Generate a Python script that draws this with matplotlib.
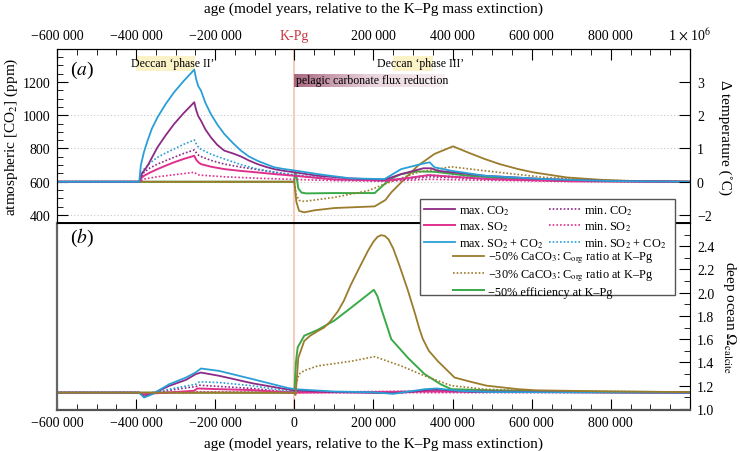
import numpy as np
import matplotlib
matplotlib.use('Agg')
import matplotlib.pyplot as plt
from matplotlib.colors import LinearSegmentedColormap
from matplotlib.patches import Rectangle
from matplotlib.ticker import MultipleLocator, FormatStrFormatter

plt.rcParams['font.family'] = ['Liberation Serif', 'DejaVu Serif']
plt.rcParams['mathtext.fontset'] = 'stix'
plt.rcParams['font.size'] = 10

# ---- panel (a): atmospheric CO2 (ppm) ----
t_max_co2 = [-600000, -392000, -385000, -380000, -371000, -360000, -346000, -325000, -304000, -280000,
             -253000, -248000, -243000, -236000, -225000, -211000, -195000, -177000, -155000, -135000,
             -115000, -93000, -70000, -51000, -25000, 0, 59000, 143000, 228000, 270000, 326000,
             346000, 363000, 400000, 481000, 633000, 800000, 1000000]
co2_max_co2 = [600, 600, 650, 666, 696, 745, 807, 880, 947, 1012,
               1078, 1030, 995, 967, 915, 867, 822, 787, 770, 752,
               728, 706, 688, 676, 665, 657, 636, 620, 612, 646, 681,
               681, 666, 656, 636, 616, 604, 600]

t_max_both = [-600000, -392000, -388000, -380000, -371000, -360000, -346000, -325000, -304000, -280000,
              -253000, -248000, -243000, -236000, -225000, -211000, -195000, -177000, -155000, -135000,
              -115000, -93000, -70000, -51000, -25000, 0, 59000, 143000, 228000, 270000, 320000,
              342000, 354000, 397000, 481000, 633000, 800000, 1000000]
co2_max_both = [600, 600, 700, 780, 847, 920, 987, 1068, 1138, 1205,
                1274, 1215, 1175, 1148, 1075, 1007, 945, 887, 832, 787,
                752, 726, 704, 687, 676, 668, 646, 620, 616, 676, 706,
                717, 687, 666, 636, 616, 604, 600]

t_max_so2 = [-600000, -392000, -388000, -380000, -365000, -346000, -325000, -304000, -280000, -253000,
             -248000, -242000, -236000, -210000, -177000, -135000, -93000, -45000, 0, 100000,
             228000, 280000, 340000, 400000, 500000, 700000, 1000000]
co2_max_so2 = [600, 600, 620, 636, 655, 676, 697, 717, 737, 756,
               732, 716, 706, 690, 676, 665, 656, 645, 636, 614,
               607, 620, 640, 630, 615, 603, 600]

t_min_both = [-600000, -392000, -388000, -380000, -365000, -346000, -325000, -304000, -280000, -253000,
              -246000, -240000, -210000, -177000, -135000, -93000, -45000, 0, 100000, 228000,
              280000, 340000, 400000, 500000, 700000, 1000000]
co2_min_both = [600, 600, 640, 676, 712, 747, 773, 797, 825, 851,
                820, 800, 765, 737, 703, 676, 656, 642, 615, 608,
                620, 640, 632, 618, 605, 600]

t_min_co2 = [-600000, -392000, -385000, -380000, -365000, -346000, -325000, -304000, -280000, -253000,
             -246000, -240000, -210000, -177000, -135000, -93000, -45000, 0, 100000, 228000,
             280000, 340000, 400000, 500000, 700000, 1000000]
co2_min_co2 = [600, 600, 632, 657, 683, 706, 727, 747, 770, 791,
               768, 755, 728, 706, 688, 673, 655, 638, 614, 607,
               615, 630, 625, 615, 604, 600]

t_min_so2 = [-600000, -392000, -385000, -380000, -346000, -300000, -253000, -246000, -240000, -177000,
             -90000, 0, 100000, 228000, 300000, 340000, 450000, 700000, 1000000]
co2_min_so2 = [600, 600, 610, 616, 630, 643, 657, 645, 640, 630,
               621, 614, 607, 603, 610, 615, 610, 602, 600]

t_eff = [-600000, 0, 2000, 5000, 10000, 18000, 30000, 100000, 203000, 228000,
         250000, 270000, 312000, 354000, 439000, 565000, 700000, 1000000]
co2_eff = [600, 600, 660, 640, 560, 535, 530, 532, 532, 586,
           625, 646, 662, 660, 636, 616, 605, 600]

t_c50 = [-600000, 0, 5000, 12000, 25000, 50000, 101000, 203000, 230000, 245000, 280000, 312000,
         354000, 401000, 440000, 481000, 519000, 566000, 603000, 633000, 688000, 772000, 857000, 1000000]
co2_c50 = [600, 600, 480, 425, 416, 428, 442, 452, 490, 536, 620, 696,
           767, 813, 775, 737, 706, 676, 657, 646, 626, 612, 604, 600]

t_c30 = [-600000, 0, 5000, 12000, 25000, 101000, 186000, 228000, 312000, 397000,
         481000, 633000, 800000, 1000000]
co2_c30 = [600, 600, 520, 488, 482, 506, 546, 586, 657, 690,
           666, 626, 608, 600]

# ---- panel (b): deep ocean saturation ----
tb_max_both = [-600000, -392000, -380000, -359000, -316000, -274000, -250000, -236000, -190000, -105000,
               -21000, 0, 100000, 200000, 250000, 280000, 330000, 360000, 420000, 500000, 1000000]
om_max_both = [1.14, 1.14, 1.098, 1.127, 1.213, 1.27, 1.313, 1.348, 1.327, 1.256,
               1.184, 1.17, 1.15, 1.143, 1.13, 1.145, 1.17, 1.176, 1.155, 1.145, 1.14]

tb_max_co2 = [-600000, -392000, -380000, -359000, -316000, -274000, -249000, -236000, -190000, -105000,
              -21000, 0, 100000, 250000, 290000, 340000, 370000, 450000, 1000000]
om_max_co2 = [1.14, 1.14, 1.107, 1.13, 1.199, 1.25, 1.30, 1.313, 1.285, 1.22,
              1.17, 1.16, 1.145, 1.135, 1.145, 1.165, 1.165, 1.148, 1.14]

tb_max_so2 = [-600000, -392000, -380000, -359000, -254000, -245000, -190000, -105000, -21000, 0,
              340000, 1000000]
om_max_so2 = [1.14, 1.14, 1.125, 1.133, 1.156, 1.176, 1.170, 1.162, 1.142, 1.14,
              1.15, 1.14]

tb_min_both = [-600000, -392000, -380000, -359000, -316000, -249000, -240000, -190000, -105000, -21000,
               0, 200000, 340000, 450000, 1000000]
om_min_both = [1.14, 1.14, 1.125, 1.14, 1.17, 1.213, 1.233, 1.227, 1.199, 1.156,
               1.15, 1.142, 1.155, 1.145, 1.14]

tb_min_co2 = [-600000, -392000, -380000, -359000, -316000, -249000, -240000, -105000, -21000, 0,
              340000, 1000000]
om_min_co2 = [1.14, 1.14, 1.13, 1.14, 1.16, 1.193, 1.204, 1.176, 1.147, 1.145,
              1.152, 1.14]

tb_min_so2 = [-600000, -392000, -380000, -254000, -245000, -105000, 0, 1000000]
om_min_so2 = [1.14, 1.14, 1.135, 1.14, 1.147, 1.145, 1.14, 1.14]

tb_eff = [-600000, 0, 4000, 8400, 25000, 59000, 101000, 143000, 201000, 210000, 219000,
          245000, 287000, 329000, 371000, 397000, 500000, 700000, 1000000]
om_eff = [1.14, 1.14, 1.40, 1.53, 1.63, 1.68, 1.76, 1.87, 2.025, 1.97, 1.87,
          1.60, 1.44, 1.30, 1.21, 1.17, 1.16, 1.15, 1.145]

tb_c50 = [-600000, 0, 3000, 6000, 10000, 25000, 40000, 59000, 75000, 90000, 110000, 125000,
          143000, 165000, 186000, 200000, 210000, 219000, 228000, 238000, 250000, 265000,
          287000, 305000, 316000, 325000, 340000, 363000, 405000, 450000, 486000, 566000,
          612000, 800000, 1000000]
om_c50 = [1.14, 1.14, 1.12, 1.25, 1.44, 1.585, 1.63, 1.67, 1.70, 1.75, 1.84, 1.93,
          2.07, 2.22, 2.36, 2.44, 2.48, 2.495, 2.49, 2.46, 2.38, 2.24,
          2.02, 1.82, 1.69, 1.60, 1.50, 1.41, 1.27, 1.23, 1.20, 1.17,
          1.16, 1.15, 1.145]

tb_c30 = [-600000, 0, 5000, 12000, 25000, 59000, 143000, 203000, 270000, 329000, 397000,
          481000, 600000, 1000000]
om_c30 = [1.14, 1.14, 1.22, 1.30, 1.33, 1.37, 1.41, 1.45, 1.37, 1.285, 1.20,
          1.17, 1.155, 1.145]

x_ticks = [-600000, -400000, -200000, 0, 200000, 400000, 600000, 800000, 1000000]
top_labels = ['\u2212600 000', '\u2212400 000', '\u2212200 000', 'K-Pg', '200 000', '400 000',
              '600 000', '800 000', r'1 $\times$ 10$^6$']
bottom_labels = ['\u2212600 000', '\u2212400 000', '\u2212200 000', '0', '200 000', '400 000',
                 '600 000', '800 000', '']
co2_ticks = [400, 600, 800, 1000, 1200]
temp_ticks = [1200, 1000, 800, 600, 400]
temp_labels = ['3', '2', '1', '0', '\u22122']

purple = '#8c2a86'
magenta = '#e0308e'
blue = '#2a9fd6'
brown = '#9b7b2c'
green = '#3aaa48'
dots = (0, (1, 1.2))

fig = plt.figure(figsize=(7.4, 4.52), dpi=100)
ax_a = fig.add_axes([0.077, 0.5044, 0.8554, 0.385])
ax_b = fig.add_axes([0.077, 0.0918, 0.8554, 0.4126])

# ---- panel a ----
for y in [400, 600, 800, 1000]:
    ax_a.axhline(y, color='#c8c8c8', lw=0.8, ls=(0, (1, 2)), zorder=0.5)
ax_a.axvline(0, color='#f4cdbf', lw=1.5, zorder=0.6)

l_eff, = ax_a.plot(t_eff, co2_eff, color=green, lw=1.4, label='\u221250% efficiency at K\u2013Pg')
l_c50, = ax_a.plot(t_c50, co2_c50, color=brown, lw=1.3,
                   label='\u221250% CaCO$_3$: C$_{\\rm org}$ ratio at K\u2013Pg')
l_c30, = ax_a.plot(t_c30, co2_c30, color=brown, lw=1.2, ls=dots,
                   label='\u221230% CaCO$_3$: C$_{\\rm org}$ ratio at K\u2013Pg')
l_minso2, = ax_a.plot(t_min_so2, co2_min_so2, color=magenta, lw=1.2, ls=dots, label='min. SO$_2$')
l_minco2, = ax_a.plot(t_min_co2, co2_min_co2, color=purple, lw=1.2, ls=dots, label='min. CO$_2$')
l_minboth, = ax_a.plot(t_min_both, co2_min_both, color=blue, lw=1.2, ls=dots, label='min. SO$_2$ + CO$_2$')
l_maxso2, = ax_a.plot(t_max_so2, co2_max_so2, color=magenta, lw=1.4, label='max. SO$_2$')
l_maxco2, = ax_a.plot(t_max_co2, co2_max_co2, color=purple, lw=1.3, label='max. CO$_2$')
l_maxboth, = ax_a.plot(t_max_both, co2_max_both, color=blue, lw=1.3, label='max. SO$_2$ + CO$_2$')

ax_a.xaxis.tick_top()
ax_a.xaxis.set_label_position('top')
ax_a.set_xticks(x_ticks)
ax_a.set_xticklabels(top_labels)
ax_a.get_xticklabels()[3].set_color('#c8343c')
ax_a.get_xticklabels()[3].set_fontsize(11)
ax_a.xaxis.set_minor_locator(MultipleLocator(50000))
ax_a.set_yticks(co2_ticks)
ax_a.yaxis.set_minor_locator(MultipleLocator(50))
ax_a.tick_params(which='both', direction='in', top=True, bottom=False, left=True, right=False)
ax_a.tick_params(which='major', length=8, pad=5, labelsize=10)
ax_a.tick_params(which='minor', length=4)
ax_a.set_xlabel('age (model years, relative to the K\u2013Pg mass extinction)', fontsize=11, labelpad=10)
ax_a.set_ylabel('atmospheric [CO$_2$] (ppm)', fontsize=11)
ax_a.yaxis.set_label_coords(-0.058, 0.5)
ax_a.text(0.04, 0.885, '($a$)', transform=ax_a.transAxes, fontsize=14, ha='center', va='center')

ax_t = ax_a.twinx()
ax_t.set_ylim(352, 1398)
ax_t.set_yticks(temp_ticks)
ax_t.set_yticklabels(temp_labels)
ax_t.tick_params(direction='in', length=8, pad=5, labelsize=10)
ax_t.set_ylabel('\u0394 temperature (\u02daC)', fontsize=11, rotation=270)
ax_t.yaxis.set_label_coords(1.066, 0.5)

# annotation bands
ax_a.add_patch(Rectangle((-400000, 1266), 150000, 90, facecolor='#fcf2c8', edgecolor='none', zorder=1))
ax_a.add_patch(Rectangle((250000, 1266), 100000, 90, facecolor='#fcf2c8', edgecolor='none', zorder=1))
ax_a.text(-307000, 1311, 'Deccan \u2018phase II\u2019', ha='center', va='center', fontsize=8.5, zorder=2)
ax_a.text(319000, 1311, 'Deccan \u2018phase III\u2019', ha='center', va='center', fontsize=8.5, zorder=2)
pel_cmap = LinearSegmentedColormap.from_list('pel', ['#a8687f', '#e9d3dc', '#f8f0f3'])
ax_a.imshow(np.linspace(0, 1, 256).reshape(1, -1), extent=[0, 380000, 1170, 1248],
            aspect='auto', cmap=pel_cmap, zorder=1)
ax_a.text(5000, 1209, 'pelagic carbonate flux reduction', ha='left', va='center', fontsize=8.5, zorder=2)
ax_a.set_xlim(-600000, 1000000)
ax_a.set_ylim(352, 1398)

for s in ['top', 'left', 'right']:
    ax_a.spines[s].set_color('#222222')
ax_a.spines['bottom'].set_linewidth(1.4)

# ---- panel b ----
ax_b.axvline(0, color='#f4cdbf', lw=1.5, zorder=0.6)
ax_b.plot(tb_eff, om_eff, color=green, lw=1.4)
ax_b.plot(tb_c30, om_c30, color=brown, lw=1.2, ls=dots)
ax_b.plot(tb_min_so2, om_min_so2, color=magenta, lw=1.2, ls=dots)
ax_b.plot(tb_min_co2, om_min_co2, color=purple, lw=1.2, ls=dots)
ax_b.plot(tb_min_both, om_min_both, color=blue, lw=1.2, ls=dots)
ax_b.plot(tb_max_so2, om_max_so2, color=magenta, lw=1.4)
ax_b.plot(tb_max_co2, om_max_co2, color=purple, lw=1.3)
ax_b.plot(tb_max_both, om_max_both, color=blue, lw=1.3)
ax_b.plot(tb_c50, om_c50, color=brown, lw=1.3)

ax_b.set_xlim(-600000, 1000000)
ax_b.set_ylim(0.995, 2.6)
ax_b.set_xticks(x_ticks)
ax_b.set_xticklabels(bottom_labels)
ax_b.xaxis.set_minor_locator(MultipleLocator(50000))
ax_b.yaxis.tick_right()
ax_b.yaxis.set_label_position('right')
ax_b.set_yticks(np.arange(1.0, 2.5, 0.2))
ax_b.yaxis.set_major_formatter(FormatStrFormatter('%.1f'))
ax_b.yaxis.set_minor_locator(MultipleLocator(0.1))
ax_b.tick_params(which='both', direction='in', top=False, bottom=True, left=False, right=True)
ax_b.tick_params(which='major', length=8, pad=5, labelsize=10)
ax_b.tick_params(which='minor', length=4)
ax_b.set_xlabel('age (model years, relative to the K\u2013Pg mass extinction)', fontsize=11, labelpad=5)
ax_b.set_ylabel(r'deep ocean $\Omega_{\rm calcite}$', fontsize=11, rotation=270)
ax_b.yaxis.set_label_coords(1.076, 0.5)
ax_b.text(0.04, 0.925, '($b$)', transform=ax_b.transAxes, fontsize=14, ha='center', va='center')
ax_b.spines['top'].set_visible(False)
ax_b.spines['left'].set_color('#666666')
ax_b.spines['left'].set_linewidth(1.6)
ax_b.spines['bottom'].set_color('#555555')
ax_b.spines['bottom'].set_linewidth(1.6)

# ---- legend: two column block on top, three centred rows below ----
frame = Rectangle((420 / 740, 1 - 296 / 452), 255 / 740, 96 / 452, transform=fig.transFigure,
                  facecolor='white', edgecolor='#555555', lw=1, zorder=5)
fig.add_artist(frame)
leg1 = fig.legend(handles=[l_maxco2, l_maxso2, l_maxboth, l_minco2, l_minso2, l_minboth],
                  ncol=2, loc='upper left', bbox_to_anchor=(424 / 740, 1 - 204 / 452), frameon=False,
                  fontsize=8.8, handlelength=2.5, handletextpad=0.35, columnspacing=0.5,
                  labelspacing=0.25, borderaxespad=0, borderpad=0)
leg1.set_zorder(6)
leg2 = fig.legend(handles=[l_c50, l_c30, l_eff], loc='upper left',
                  bbox_to_anchor=(453 / 740, 1 - 251 / 452), frameon=False,
                  fontsize=8.8, handlelength=2.5, handletextpad=0.4,
                  labelspacing=0.2, borderaxespad=0, borderpad=0)
leg2.set_zorder(6)

fig.savefig('out.png', dpi=100)
